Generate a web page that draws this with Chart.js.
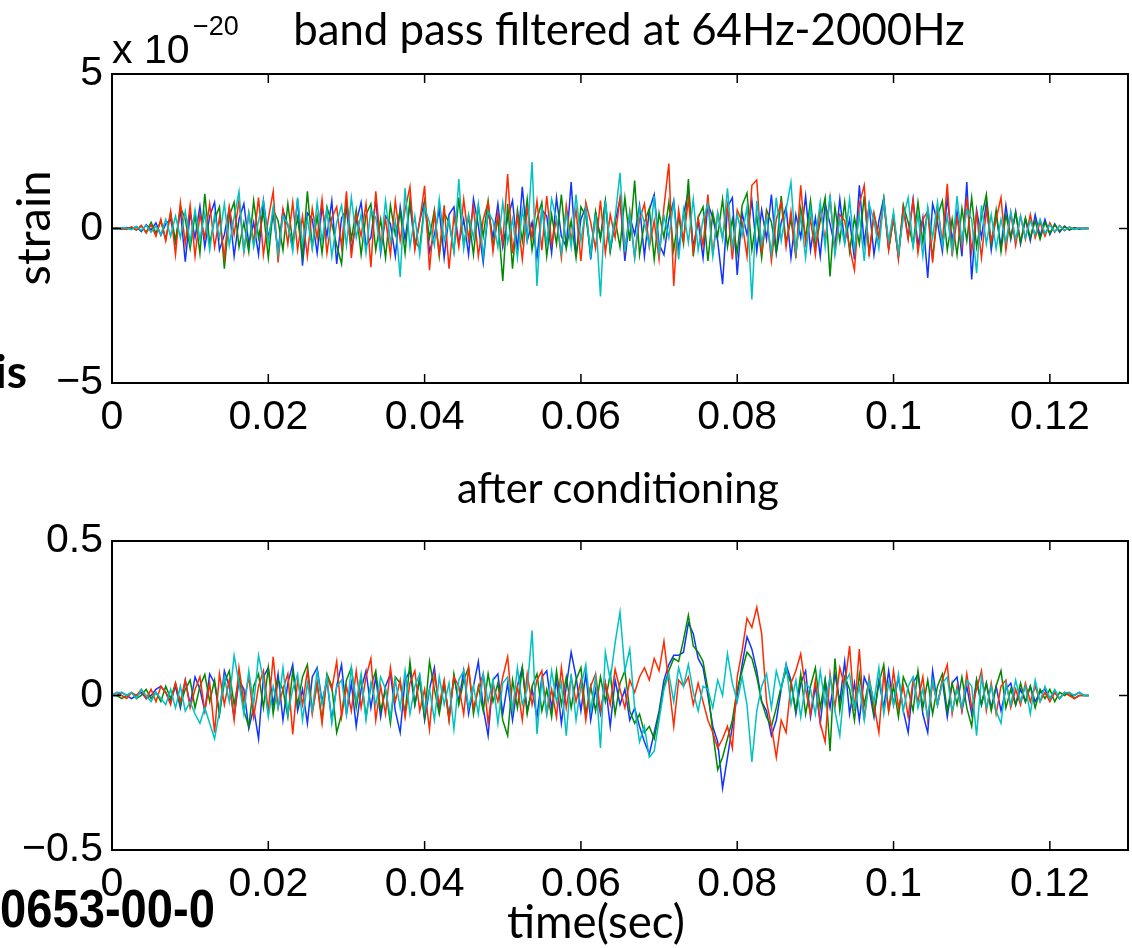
<!DOCTYPE html>
<html><head><meta charset="utf-8">
<script src="https://cdn.jsdelivr.net/npm/chart.js@4.4.1/dist/chart.umd.min.js"></script>
<style>
html,body{margin:0;padding:0;background:#fff;}
body{width:1132px;height:948px;position:relative;overflow:hidden;}
canvas{position:absolute;left:0;}
.t{position:absolute;left:0;top:0;white-space:nowrap;color:#000;line-height:1;}
.bl{display:inline-block;width:0;height:0;vertical-align:baseline;}
</style></head><body>
<canvas id="topChart" width="1132" height="470" style="top:0;width:1132px;height:470px"></canvas>
<canvas id="botChart" width="1132" height="478" style="top:470px;width:1132px;height:478px"></canvas>

<div class="t" id="tTitle" style="font-family:Lato,sans-serif;font-size:40px">band pass filtered at 64Hz-2000Hz<span class="bl"></span></div>
<div class="t" id="tX10" style="font-family:'Liberation Sans',Arial,sans-serif;font-size:41px">x 10<span class="bl"></span></div>
<div class="t" id="tExp" style="font-family:'Liberation Sans',Arial,sans-serif;font-size:27px">&#8722;20<span class="bl"></span></div>
<div class="t" id="tStrain" style="font-family:Lato,sans-serif;font-size:36px">strain<span class="bl"></span></div>
<div class="t" id="tAfter" style="font-family:Lato,sans-serif;font-size:36px">after conditioning<span class="bl"></span></div>
<div class="t" id="tTime" style="font-family:Lato,sans-serif;font-size:36px">time(sec)<span class="bl"></span></div>
<div class="t" id="tIs" style="font-family:Lato,sans-serif;font-weight:700;font-size:48px">is<span class="bl"></span></div>
<div class="t" id="tCode" style="font-family:'Liberation Sans',Arial,sans-serif;font-weight:700;font-size:54px">0653-00-0<span class="bl"></span></div>

<script>
// ---- data ----
const sampleStep = 0.000625; // seconds between samples
const xTicks = [0, 0.02, 0.04, 0.06, 0.08, 0.1, 0.12];
const xTickLabels = ['0', '0.02', '0.04', '0.06', '0.08', '0.1', '0.12'];
const topYTicks = [-5, 0, 5];
const topYTickLabels = ['\u22125', '0', '5'];
const botYTicks = [-0.5, 0, 0.5];
const botYTickLabels = ['\u22120.5', '0', '0.5'];

// band pass filtered strain, units of 1e-20
const topBlue = [
0,0.01,-0.02,0.03,-0.01,0.06,-0.1,0.12,-0.05,0.18,-0.22,0.15,0.3,-0.45,0.6,-1.07,0.5,-0.3,0.72,-0.6,
0.4,0.85,-0.7,-0.2,0.65,-0.9,0.3,0.8,-0.5,0.2,-0.85,0.9,-0.3,0.45,-0.75,0.6,0.1,-0.6,0.95,-1.2,
0.5,0.3,-0.8,0.7,-0.25,0.9,-1.15,0.35,0.6,-0.7,0.2,0.85,-0.55,-0.3,0.95,-0.8,0.4,0.15,-0.9,0.7,
-0.35,0.8,-0.6,0.25,0.9,-0.75,-0.2,0.6,-0.95,0.45,0.7,-0.5,0.3,-0.85,0.95,0.1,-1.1,0.55,-0.3,0.8,
-0.6,0.35,0.9,-0.7,1.35,-0.4,0.2,-0.95,0.6,0.4,-0.8,1.0,-0.25,-0.6,1.5,-0.9,0.3,0.7,-1.0,0.5,
-0.3,0.85,-0.7,0.2,0.95,-1.05,0.4,-0.2,0.75,-0.9,0.6,1.1,-0.5,-0.85,0.3,0.9,-0.7,0.45,1.2,-0.6,
0.25,-0.95,0.8,0.35,-0.4,-1.8,0.7,1.0,-1.5,0.5,-0.2,0.9,-0.75,0.6,-0.35,1.1,-0.8,0.2,0.7,-0.95,
0.45,-0.3,1.05,-0.7,0.35,-0.9,0.8,0.15,-0.6,0.95,-0.45,0.3,-1.0,1.4,-0.5,0.75,-0.85,0.25,1.0,-0.65,
0.4,-0.9,0.7,-0.3,0.95,-0.55,0.35,-1.6,0.8,0.2,-0.75,1.0,-0.4,0.55,-0.9,1.5,-1.65,0.6,-0.3,0.85,
-0.7,0.45,-0.6,0.75,-0.35,0.55,-0.5,0.3,-0.4,0.45,-0.25,0.3,-0.2,0.15,-0.12,0.08,-0.05,0.03,-0.02,0.01,
0];
const topGreen = [
0,-0.01,0.02,-0.02,0.04,-0.05,0.08,-0.12,0.2,-0.15,0.25,-0.35,0.5,-0.4,0.7,0.3,-0.65,0.45,-0.8,1.12,
-0.5,0.3,0.7,-1.3,0.4,0.85,-0.6,0.2,-0.75,0.9,-0.3,0.55,-0.95,0.6,0.25,-0.7,0.8,-0.45,0.35,-0.9,
1.2,-0.6,0.4,-0.8,0.7,0.15,-0.55,-1.15,0.9,-0.35,0.6,-0.85,0.45,0.8,-0.7,0.3,-0.95,0.75,-0.2,0.55,
-0.8,0.95,-0.4,-0.65,0.85,-0.3,0.6,-0.9,0.5,0.2,-0.75,1.0,-0.55,0.4,-0.85,0.7,-0.25,0.9,-0.6,0.35,
-1.7,0.8,-1.3,0.6,-0.4,0.95,-0.7,0.3,0.85,-0.9,0.45,-0.5,1.1,-0.65,0.25,-0.95,0.7,0.4,-0.8,0.55,
-0.35,0.9,-0.75,0.3,-0.6,1.0,-0.4,1.55,-0.85,0.2,0.65,-1.0,0.5,-0.3,0.85,-0.7,0.4,-0.5,1.6,-0.9,
0.35,0.7,-1.05,0.5,-0.25,0.95,-0.6,0.3,-0.8,0.75,1.15,-0.7,0.4,-0.95,0.6,0.2,-0.75,1.05,-0.45,0.3,
-0.85,0.65,-0.3,0.9,-0.6,0.25,1.0,-1.55,0.7,-0.4,0.85,-0.75,0.35,-0.5,1.05,-0.8,0.45,-0.3,0.95,-0.65,
0.3,-0.9,0.75,0.2,-0.55,0.85,-0.45,0.6,-0.95,0.4,0.9,-0.7,0.3,-0.85,0.65,-0.4,1.0,-0.6,0.35,1.1,
-0.5,0.6,-0.75,0.45,-0.3,0.5,-0.45,0.35,-0.3,0.25,-0.35,0.2,-0.15,0.12,-0.08,0.06,-0.04,0.02,-0.01,0.01,
0];
const topRed = [
0,0.02,-0.01,-0.03,0.05,-0.04,0.1,-0.15,0.12,-0.25,0.3,-0.4,0.55,-0.85,0.84,-0.5,0.75,-0.9,0.45,-0.3,
0.8,-0.6,0.35,-0.95,0.7,-0.2,0.9,-0.75,0.5,-0.45,1.0,-0.85,0.3,1.2,-1.1,0.6,-0.5,0.85,-0.7,0.4,
-0.9,0.65,-0.3,0.95,-0.8,0.35,0.7,-0.6,1.2,-0.95,0.45,-0.25,0.8,-1.25,1.2,-0.5,0.3,-0.85,0.9,-0.4,
0.6,1.35,-0.7,0.25,1.38,-1.35,0.5,-0.8,0.75,-1.3,0.4,-0.6,0.95,-0.35,0.7,-0.9,0.3,0.85,-0.75,0.5,
-0.45,1.76,-0.8,0.4,-1.0,0.65,-0.3,0.9,-0.7,1.05,-0.5,0.3,-0.95,0.75,-0.4,0.6,-1.05,0.85,0.2,-0.65,
0.9,-0.8,0.45,-0.3,1.0,-0.7,0.55,-0.95,0.3,0.8,-0.6,0.25,-1.0,0.7,2.1,-1.86,0.6,-0.4,0.95,-0.75,
0.35,-0.55,1.1,-0.85,0.5,-0.3,0.75,-1.0,0.6,0.2,-0.9,1.4,1.57,-0.8,0.45,-1.05,0.3,0.85,-0.6,0.55,
-0.95,1.4,-0.5,0.3,-0.85,0.7,-0.4,1.0,-0.75,0.45,0.25,-0.6,-1.35,0.8,1.4,-0.9,0.5,-0.3,0.85,-0.7,
0.4,-1.0,0.65,-0.35,0.9,-0.8,0.3,0.55,-1.1,0.7,-0.45,1.45,-0.9,0.35,-0.6,1.0,-0.75,0.5,-0.95,0.6,
-0.4,0.3,1.0,-0.7,0.5,-0.55,0.4,-0.35,0.45,-0.3,0.2,-0.25,0.18,-0.12,0.1,-0.07,0.05,-0.03,0.02,-0.01,
0];
const topCyan = [
0,-0.02,0.03,0.01,-0.04,0.07,-0.06,0.1,-0.12,0.08,-0.2,0.3,-0.25,0.4,-0.3,0.55,-0.45,0.6,-0.35,0.5,
-0.7,0.45,-0.3,0.8,-0.55,0.35,1.2,-0.8,0.5,-0.6,0.25,0.9,-0.45,0.7,-0.85,0.4,0.15,-0.75,1.0,-0.5,
0.3,-0.65,0.85,-0.4,0.6,-0.9,0.2,0.75,-0.55,1.0,-0.3,0.45,-0.8,0.6,0.35,-0.7,0.9,-0.45,0.25,-1.57,
1.3,-0.6,0.4,-0.85,0.7,0.2,-0.55,0.95,-0.4,0.3,-0.75,1.6,-0.65,0.45,-0.3,0.8,-0.9,0.55,0.25,-0.6,
0.85,-0.45,0.3,-0.95,0.6,-0.35,2.15,-1.86,0.7,-0.5,0.95,0.3,-0.8,0.5,-0.6,1.1,-0.4,0.65,-0.85,0.45,
-2.2,0.9,-0.6,0.35,1.8,-0.75,0.5,-0.95,0.7,0.2,-0.55,1.05,-0.8,0.4,-0.3,0.85,-1.0,0.6,-0.45,0.95,
-0.7,0.3,0.8,-0.9,0.5,-0.35,1.3,-0.6,0.45,-0.25,0.7,-2.3,0.9,-0.5,0.35,-0.8,1.0,-0.4,0.6,1.5,
-0.75,0.4,-0.95,0.65,-0.3,0.85,-0.6,1.1,-0.85,0.3,-0.5,0.95,-0.7,0.45,-1.05,0.8,0.25,-0.65,0.9,-0.4,
0.55,-0.8,0.35,1.0,-0.6,0.45,-0.9,0.7,-0.3,0.85,-0.55,0.4,-0.75,1.05,-0.45,0.6,0.3,-1.45,0.75,-0.5,
0.45,-0.65,0.3,-0.45,0.55,-0.35,0.4,-0.3,0.25,-0.2,0.3,-0.15,0.12,-0.1,0.08,-0.05,0.04,-0.02,0.01,0.01,
0];

// after conditioning (whitened)
const botBlue = [
0,0.0,0.01,0.0,-0.01,0.0,0.01,-0.01,0.0,0.02,0.03,0.01,-0.02,0.03,-0.04,0.05,-0.03,0.06,0.02,-0.05,
0.07,0.04,-0.06,0.08,0.03,-0.07,0.05,0.02,-0.107,-0.04,-0.14,0.06,0.09,-0.03,0.07,-0.08,0.04,0.1,-0.05,0.02,
-0.09,0.06,0.09,-0.02,0.05,-0.08,0.03,0.1,-0.06,0.04,-0.1,0.02,0.08,-0.04,0.06,-0.07,0.03,0.07,-0.05,-0.12,
0.05,0.08,-0.03,0.06,-0.08,0.02,0.09,-0.05,0.04,-0.07,0.06,-0.02,0.08,-0.06,0.03,0.11,-0.04,-0.13,0.05,0.07,
-0.06,0.04,-0.08,0.03,0.09,-0.05,0.02,-0.07,0.06,0.08,-0.04,0.05,-0.09,0.03,0.14,0.06,-0.05,0.07,-0.08,0.02,
-0.06,0.04,-0.1,0.05,-0.03,0.02,-0.08,-0.04,-0.1,-0.15,-0.19,-0.12,-0.05,0.05,0.1,0.13,0.13,0.14,0.235,0.2,
0.12,0.09,0.0,-0.1,-0.15,-0.3,-0.2,-0.1,0.0,0.1,0.19,0.15,0.08,-0.02,-0.05,-0.13,-0.08,0.02,0.1,0.05,
-0.06,0.04,0.08,-0.07,0.03,-0.09,0.05,-0.04,0.07,-0.02,0.11,-0.06,0.04,-0.08,0.06,0.02,-0.07,0.05,-0.04,0.08,
-0.03,0.06,-0.05,-0.12,0.04,0.07,-0.06,-0.12,0.08,-0.03,0.05,-0.07,0.04,0.06,-0.05,0.03,-0.06,0.05,-0.03,0.04,
-0.04,0.03,-0.05,0.02,0.04,-0.03,0.02,-0.02,0.03,-0.02,0.01,0.02,-0.01,0.01,-0.01,0.01,0.0,0.0,0.01,0.0,
0];
const botGreen = [
0,0.0,-0.01,0.0,0.01,-0.01,0.0,0.02,-0.01,0.01,-0.02,0.03,-0.01,0.04,-0.03,0.02,0.05,-0.04,0.03,0.068,
-0.02,0.05,-0.06,0.04,0.08,-0.03,0.06,-0.05,-0.1,0.03,0.07,-0.04,0.09,-0.06,0.05,0.02,-0.07,0.08,-0.03,0.06,
0.1,-0.05,0.04,-0.08,0.07,0.03,-0.12,-0.06,0.05,0.09,-0.04,0.06,-0.07,0.03,0.08,-0.05,0.02,-0.09,0.06,0.04,
-0.06,0.11,-0.03,0.05,-0.07,0.11,0.02,-0.06,0.04,-0.08,0.07,-0.03,0.05,0.09,-0.06,0.03,-0.05,0.07,-0.02,0.04,
-0.08,-0.13,0.05,-0.04,0.09,-0.06,0.03,0.07,-0.05,0.02,-0.07,0.08,-0.03,0.06,-0.04,0.05,0.09,-0.06,0.03,-0.05,
0.06,-0.02,0.07,-0.06,0.04,0.08,-0.05,-0.09,-0.06,-0.12,-0.1,-0.14,-0.06,0.03,0.08,0.12,0.11,0.18,0.26,0.16,
0.14,0.11,0.02,-0.12,-0.24,-0.2,-0.14,-0.08,0.02,0.08,0.14,0.12,0.06,-0.02,-0.07,-0.1,-0.04,0.03,0.08,0.04,
-0.05,0.07,-0.06,0.03,0.09,-0.04,0.05,-0.18,0.12,-0.05,0.06,0.02,-0.08,0.07,-0.03,0.05,-0.06,0.04,0.1,-0.05,
0.03,-0.07,0.06,0.02,-0.05,0.08,-0.04,0.05,-0.06,0.03,0.07,-0.05,0.04,-0.03,0.06,-0.04,-0.1,0.05,-0.03,0.04,
-0.05,0.03,0.08,-0.04,0.02,-0.03,0.04,-0.02,0.03,-0.04,0.02,-0.01,0.02,-0.02,0.01,0.0,0.01,-0.01,0.0,0.0,
0];
const botRed = [
0,0.01,0.0,-0.01,0.01,0.0,0.02,-0.01,0.02,-0.02,0.03,0.01,-0.03,0.04,-0.02,0.05,-0.04,0.02,0.06,-0.05,
0.04,-0.12,0.07,-0.03,0.05,-0.08,0.09,-0.02,0.06,-0.07,0.03,0.08,-0.05,0.125,-0.04,0.02,0.07,-0.126,0.05,-0.03,
0.08,-0.06,0.04,-0.09,0.06,0.02,0.11,-0.07,0.03,-0.05,0.08,-0.04,0.06,0.12,-0.08,0.03,-0.06,0.09,-0.02,0.05,
-0.07,0.04,0.08,-0.05,0.02,-0.11,0.07,-0.03,0.05,-0.08,0.06,0.03,-0.06,0.09,-0.04,0.02,0.07,-0.09,0.04,-0.02,
0.06,0.125,-0.05,0.03,-0.08,0.07,-0.03,0.05,0.08,-0.06,0.02,-0.07,0.09,-0.04,0.06,-0.02,0.05,-0.08,0.03,0.07,
-0.05,0.04,-0.03,0.085,0.02,-0.04,0.05,0.01,0.06,0.09,0.05,0.12,0.08,0.175,0.04,-0.1,0.05,0.03,0.06,-0.03,
0.04,-0.02,-0.08,-0.12,-0.17,-0.14,-0.1,-0.17,0.06,0.145,0.25,0.22,0.285,0.2,-0.02,-0.1,-0.2,-0.08,-0.12,0.04,
0.08,0.135,0.02,-0.06,0.05,-0.09,-0.15,0.07,-0.04,0.09,0.03,0.16,-0.05,0.15,-0.08,0.06,-0.03,-0.12,0.07,-0.05,
0.08,-0.04,0.03,-0.07,0.05,-0.02,0.06,-0.08,0.04,-0.03,0.05,0.1,-0.06,0.03,-0.05,0.07,-0.04,0.02,0.08,-0.05,
0.04,-0.06,0.03,0.05,-0.04,0.02,-0.03,0.04,-0.02,0.03,-0.02,0.01,-0.02,0.01,-0.01,0.01,0.0,-0.01,0.0,0.0,
0];
const botCyan = [
0,0.01,0.01,0.0,0.01,-0.01,0.02,0.0,-0.02,0.01,-0.01,-0.03,0.02,-0.04,0.03,-0.05,-0.02,-0.06,-0.09,-0.04,
-0.09,-0.14,-0.05,0.06,-0.02,0.13,0.04,-0.06,0.08,-0.03,0.13,0.05,-0.07,0.03,-0.04,0.09,-0.06,0.02,0.07,-0.08,
0.04,-0.05,0.08,-0.03,0.06,-0.09,0.03,0.05,-0.06,0.09,-0.02,0.07,-0.08,0.04,-0.03,0.06,0.02,-0.07,0.05,-0.04,
0.08,-0.06,0.03,0.07,-0.05,0.02,-0.08,0.06,-0.03,0.04,-0.11,0.05,0.08,-0.04,0.03,-0.06,0.07,-0.02,0.05,-0.09,
0.04,0.06,-0.05,0.09,-0.03,0.02,0.21,-0.125,0.05,-0.06,0.08,-0.02,0.04,-0.13,0.07,-0.08,0.03,0.1,-0.05,0.06,
-0.17,0.14,0.05,0.17,0.27,0.08,0.15,-0.04,-0.15,-0.1,-0.2,-0.18,-0.08,0.02,0.07,-0.02,0.09,0.03,0.1,0.01,
-0.05,0.03,0.02,-0.04,0.05,0.0,0.135,0.04,-0.02,0.06,-0.03,-0.215,-0.05,0.03,0.07,-0.04,0.08,0.02,0.1,-0.03,
0.05,-0.07,0.04,0.02,-0.06,0.08,-0.03,0.06,-0.05,-0.13,0.04,0.07,-0.04,0.03,-0.08,0.05,-0.02,0.09,-0.06,0.04,
-0.03,0.07,-0.05,0.03,0.06,-0.04,0.02,-0.07,0.05,-0.03,0.04,0.06,-0.05,0.02,-0.04,0.05,0.03,-0.13,0.06,-0.04,
0.03,-0.05,-0.09,0.04,-0.03,0.05,-0.02,0.03,-0.06,0.05,-0.02,0.03,-0.01,0.02,-0.01,0.01,0.01,0.0,0.01,0.0,
0.0];

// ---- rendering ----
const seriesColors = {blue:'#1234ff', green:'#008a00', red:'#ff2a00', cyan:'#00c2c2'};
const tickFont = {family:"'Liberation Sans', Arial, Helvetica, sans-serif", size:41};

function pts(vals){ return vals.map((v,i)=>({x:i*sampleStep, y:v})); }
function ds(vals, col){ return {data:pts(vals), borderColor:col, borderWidth:1.5, pointRadius:0, fill:false, tension:0}; }

const boxPlugin = {
  id:'matlabBox',
  afterDraw(chart){
    const {ctx, chartArea:a, scales:{x, y}} = chart;
    ctx.save();
    ctx.strokeStyle = '#000';
    ctx.lineWidth = 1.5;
    const L = 9;
    ctx.beginPath();
    x.ticks.forEach(t=>{
      const px = x.getPixelForValue(t.value);
      ctx.moveTo(px, a.bottom); ctx.lineTo(px, a.bottom - L);
      ctx.moveTo(px, a.top); ctx.lineTo(px, a.top + L);
    });
    y.ticks.forEach(t=>{
      const py = y.getPixelForValue(t.value);
      ctx.moveTo(a.left, py); ctx.lineTo(a.left + L, py);
      ctx.moveTo(a.right, py); ctx.lineTo(a.right - L, py);
    });
    ctx.stroke();
    ctx.lineWidth = 2;
    ctx.strokeRect(a.left, a.top, a.right - a.left, a.bottom - a.top);
    ctx.restore();
  }
};

function makeChart(id, sets, yMin, yMax, yTicks, yLabels, padTop, xAxisH){
  return new Chart(document.getElementById(id), {
    type:'line',
    data:{datasets:[
      ds(sets.cyan, seriesColors.cyan),
      ds(sets.red, seriesColors.red),
      ds(sets.green, seriesColors.green),
      ds(sets.blue, seriesColors.blue)
    ]},
    options:{
      responsive:false, animation:false, devicePixelRatio:1,
      layout:{padding:{top:padTop, right:4, left:0, bottom:0}},
      plugins:{legend:{display:false}, tooltip:{enabled:false}, title:{display:false}},
      scales:{
        x:{type:'linear', min:0, max:0.13,
           afterBuildTicks:s=>{ s.ticks = xTicks.map(v=>({value:v})); },
           afterFit:s=>{ s.height = xAxisH; },
           grid:{display:false, drawTicks:false}, border:{display:false},
           ticks:{autoSkip:false, maxRotation:0, minRotation:0, padding:10, color:'#000', font:tickFont,
                  callback:(v,i)=>xTickLabels[i]}},
        y:{type:'linear', min:yMin, max:yMax,
           afterBuildTicks:s=>{ s.ticks = yTicks.map(v=>({value:v})); },
           afterFit:s=>{ s.width = 112; },
           grid:{display:false, drawTicks:false}, border:{display:false},
           ticks:{autoSkip:false, padding:9, color:'#000', font:tickFont,
                  callback:(v,i)=>yLabels[i]}}
      }
    },
    plugins:[boxPlugin]
  });
}

makeChart('topChart', {blue:topBlue, green:topGreen, red:topRed, cyan:topCyan}, -5, 5, topYTicks, topYTickLabels, 74, 87);
makeChart('botChart', {blue:botBlue, green:botGreen, red:botRed, cyan:botCyan}, -0.5, 0.5, botYTicks, botYTickLabels, 71, 98);

// ---- text placement ----
function place(id, o){
  const el = document.getElementById(id);
  if (o.w && !o.sx){
    const fs = parseFloat(getComputedStyle(el).fontSize);
    el.style.fontSize = (fs * o.w / el.getBoundingClientRect().width) + 'px';
  }
  const r = el.getBoundingClientRect();
  const m = el.querySelector('.bl').getBoundingClientRect().top - r.top;
  const W = r.width;
  if (o.rot){
    el.style.transformOrigin = (W/2) + 'px ' + m + 'px';
    el.style.transform = 'rotate(-90deg)';
    el.style.left = (o.bx - W/2) + 'px';
    el.style.top = (o.cy - m) + 'px';
    return;
  }
  if (o.sx){
    el.style.transformOrigin = '0 ' + m + 'px';
    el.style.transform = 'scaleX(' + (o.w / W) + ')';
  }
  const left = (o.left !== undefined) ? o.left : o.cx - W/2;
  el.style.left = left + 'px';
  el.style.top = (o.base - m) + 'px';
}
place('tTitle', {cx:629, base:45, w:672});
place('tX10', {left:112, base:63});
place('tExp', {left:193, base:35});
place('tStrain', {bx:50, cy:228, w:115, rot:true});
place('tAfter', {cx:618, base:503, w:322});
place('tTime', {cx:596, base:938, w:178});
place('tIs', {left:-5, base:388, w:32});
place('tCode', {left:0, base:927, w:215, sx:true});
</script>
</body></html>
